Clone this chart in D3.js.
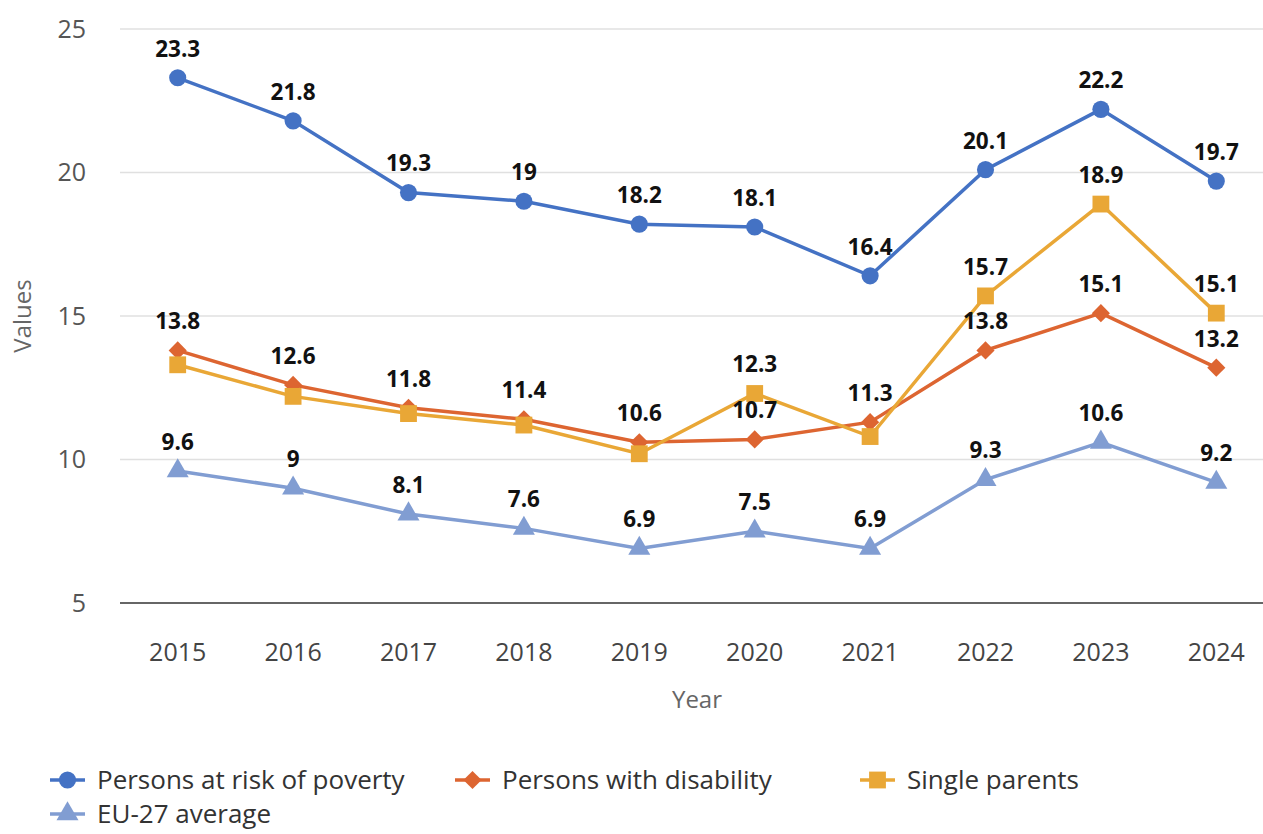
<!DOCTYPE html>
<html>
<head>
<meta charset="utf-8">
<script src="https://cdn.jsdelivr.net/npm/d3@7.9.0/dist/d3.min.js"></script>
<style>
  body { margin: 0; background: #fff; overflow: hidden; }
  svg { display: block; font-family: "Open Sans", sans-serif; }
</style>
</head>
<body>
<svg id="chart" width="1263" height="834"></svg>
<script>
const years = ['2015', '2016', '2017', '2018', '2019', '2020', '2021', '2022', '2023', '2024'];
const povertyValues = [23.3, 21.8, 19.3, 19, 18.2, 18.1, 16.4, 20.1, 22.2, 19.7];
const disabilityValues = [13.8, 12.6, 11.8, 11.4, 10.6, 10.7, 11.3, 13.8, 15.1, 13.2];
const singleParentValues = [13.3, 12.2, 11.6, 11.2, 10.2, 12.3, 10.8, 15.7, 18.9, 15.1];
const euAverageValues = [9.6, 9, 8.1, 7.6, 6.9, 7.5, 6.9, 9.3, 10.6, 9.2];
const yTicks = [5, 10, 15, 20, 25];

const series = [
  { name: 'Persons at risk of poverty', values: povertyValues, color: '#4472c4', symbol: d3.symbolCircle, size: 230 },
  { name: 'Persons with disability', values: disabilityValues, color: '#dd6531', symbol: d3.symbolDiamond2, size: 210 },
  { name: 'Single parents', values: singleParentValues, color: '#e9a736', symbol: d3.symbolSquare2, size: 360 },
  { name: 'EU-27 average', values: euAverageValues, color: '#819dd2', symbol: d3.symbolTriangle, size: 210 }
];

const svg = d3.select('#chart');
const x = d3.scaleBand().domain(years).range([120, 1274]);
const y = d3.scaleLinear().domain([5, 25]).range([603, 29]);
const cx = d => x(d) + x.bandwidth() / 2;

// grid lines
svg.append('g')
  .selectAll('line')
  .data(yTicks)
  .join('line')
  .attr('x1', 120).attr('x2', 1274)
  .attr('y1', d => y(d)).attr('y2', d => y(d))
  .attr('stroke', d => d === 5 ? '#333' : '#e0e0e0')
  .attr('stroke-width', 1.5);

// y tick labels
svg.append('g')
  .selectAll('text')
  .data(yTicks)
  .join('text')
  .attr('x', 86).attr('y', d => y(d))
  .attr('text-anchor', 'end').attr('dy', '0.35em')
  .attr('fill', '#555').attr('font-size', 25)
  .text(d => d);

// x tick labels
svg.append('g')
  .selectAll('text')
  .data(years)
  .join('text')
  .attr('x', d => cx(d)).attr('y', 652)
  .attr('text-anchor', 'middle').attr('dy', '0.35em')
  .attr('fill', '#444').attr('font-size', 25)
  .text(d => d);

// axis titles
svg.append('text')
  .attr('x', 697).attr('y', 700).attr('dy', '0.35em')
  .attr('text-anchor', 'middle').attr('fill', '#666').attr('font-size', 24)
  .text('Year');
svg.append('text')
  .attr('transform', 'translate(23,316) rotate(-90)')
  .attr('dy', '0.35em')
  .attr('text-anchor', 'middle').attr('fill', '#666').attr('font-size', 24)
  .text('Values');

const line = d3.line().x((d, i) => cx(years[i])).y(d => y(d));

// lines and markers
series.forEach(s => {
  const g = svg.append('g');
  g.append('path')
    .attr('d', line(s.values))
    .attr('fill', 'none')
    .attr('stroke', s.color)
    .attr('stroke-width', 3.5);
  g.selectAll('path.mark')
    .data(s.values)
    .join('path')
    .attr('class', 'mark')
    .attr('transform', (d, i) => `translate(${cx(years[i])},${y(d)})`)
    .attr('d', d3.symbol().type(s.symbol).size(s.size))
    .attr('fill', s.color);
});

// value labels, skip any that collide with one already placed
const placed = [];
const labels = svg.append('g');
series.forEach(s => {
  s.values.forEach((v, i) => {
    const t = labels.append('text')
      .attr('x', cx(years[i])).attr('y', y(v) - 29)
      .attr('dy', '0.35em')
      .attr('text-anchor', 'middle')
      .attr('font-size', 22.5).attr('font-weight', 700)
      .attr('fill', '#111')
      .text(v);
    const b = t.node().getBBox();
    const box = { x0: b.x, x1: b.x + b.width, y0: b.y + 3, y1: b.y + b.height - 3 };
    const hit = placed.some(p => box.x0 < p.x1 && box.x1 > p.x0 && box.y0 < p.y1 && box.y1 > p.y0);
    if (hit) t.remove();
    else placed.push(box);
  });
});

// legend
const legend = svg.append('g');
series.forEach((s, i) => {
  const lx = 50 + (i % 3) * 405;
  const ly = 780 + Math.floor(i / 3) * 34;
  const item = legend.append('g').attr('transform', `translate(${lx},${ly})`);
  item.append('line')
    .attr('x1', 0).attr('x2', 35)
    .attr('stroke', s.color).attr('stroke-width', 3.5);
  item.append('path')
    .attr('transform', 'translate(17.5,0)')
    .attr('d', d3.symbol().type(s.symbol).size(s.size))
    .attr('fill', s.color);
  item.append('text')
    .attr('x', 47).attr('dy', '0.35em')
    .attr('fill', '#333').attr('font-size', 26)
    .text(s.name);
});
</script>
</body>
</html>
